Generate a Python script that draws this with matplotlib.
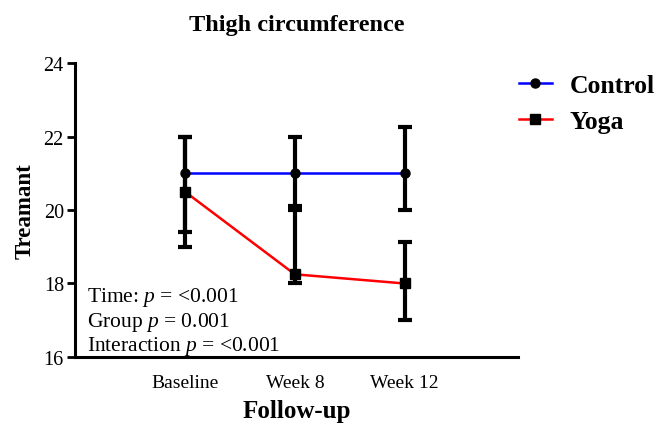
import matplotlib
matplotlib.use("Agg")
import matplotlib.pyplot as plt
import numpy as np

plt.rcParams['font.family'] = ['Liberation Serif', 'DejaVu Serif']
plt.rcParams['mathtext.fontset'] = 'custom'
plt.rcParams['mathtext.rm'] = 'Liberation Serif'
plt.rcParams['mathtext.it'] = 'Liberation Serif:italic'

categories = ["Baseline", "Week 8", "Week 12"]
control_mean = [21.0, 21.0, 21.0]
control_low = [19.4, 20.0, 20.0]
control_high = [22.0, 22.0, 22.25]
yoga_mean = [20.5, 18.25, 18.0]
yoga_low = [19.0, 18.0, 17.0]
yoga_high = [22.0, 20.1, 19.12]

x = np.arange(1, len(categories) + 1)

fig = plt.figure(figsize=(6.56, 4.27), dpi=100)
ax = fig.add_axes([0.1143, 0.1616, 0.6753, 0.6885])

def errs(mean, low, high):
    m = np.array(mean)
    return np.vstack([m - np.array(low), np.array(high) - m])

for mean, low, high in [(control_mean, control_low, control_high), (yoga_mean, yoga_low, yoga_high)]:
    ax.errorbar(x, mean, yerr=errs(mean, low, high), fmt='none', ecolor='black',
                elinewidth=3, capsize=5, capthick=3, zorder=2)

ax.plot(x, control_mean, color='blue', lw=1.8, marker='o', ms=6.5, mfc='black', mec='black',
        label='Control', zorder=3)
ax.plot(x, yoga_mean, color='red', lw=1.8, marker='s', ms=6.5, mfc='black', mec='black',
        label='Yoga', zorder=3)

ax.set_xlim(0, 4.03)
ax.set_ylim(16, 24)
ax.set_yticks([16, 18, 20, 22, 24])
ax.set_xticks(x)
ax.set_xticklabels(categories, fontsize=14)
ax.tick_params(axis='x', length=0, pad=12)
ax.tick_params(axis='y', labelsize=14.5, width=2, length=6, pad=2)
for s in ['top', 'right']:
    ax.spines[s].set_visible(False)
for s in ['left', 'bottom']:
    ax.spines[s].set_linewidth(2.2)

ax.set_title("Thigh circumference", fontsize=17.5, fontweight='bold', pad=24)
ax.set_xlabel("Follow-up", fontsize=18, fontweight='bold', labelpad=6)
ax.set_ylabel("Treamant", fontsize=16.5, fontweight='bold', labelpad=6)

ax.text(0.027, 0.122, "Time: $p$ = <0.001\nGroup $p$ = 0.001\nInteraction $p$ = <0.001",
        transform=ax.transAxes, fontsize=15.5, va='center', ha='left', linespacing=1.1)

ax.legend(loc='upper left', bbox_to_anchor=(0.984, 0.99), frameon=False,
          prop={'weight': 'bold', 'size': 18.5}, handlelength=1.3, borderaxespad=0.0,
          handletextpad=0.7, labelspacing=0.5, borderpad=0.3)

fig.savefig("out.png", dpi=100)
